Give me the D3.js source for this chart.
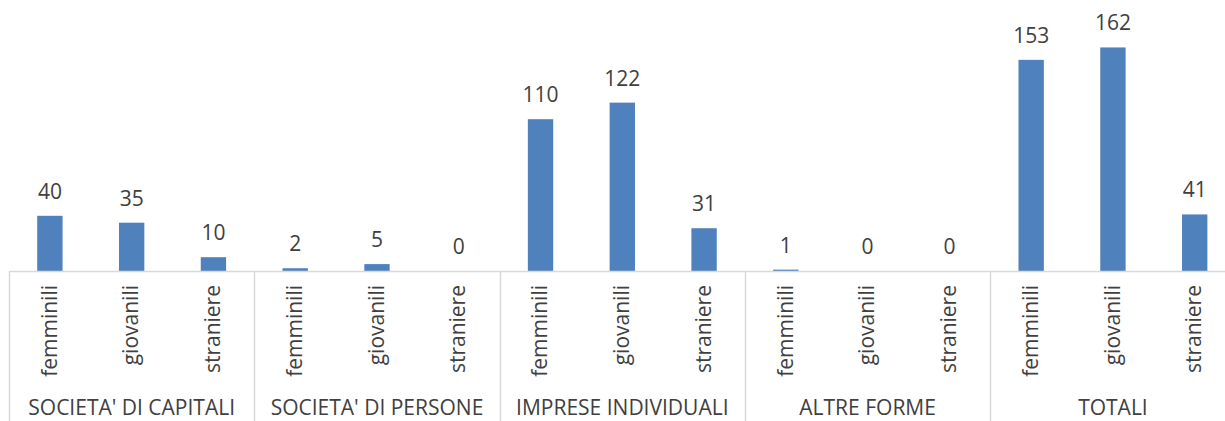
<!DOCTYPE html>
<html>
<head>
<meta charset="utf-8">
<script src="https://cdn.jsdelivr.net/npm/d3@7"></script>
<style>
  html, body { margin: 0; padding: 0; background: #fff; }
  svg { display: block; }
  text { font-family: "Open Sans", "Liberation Sans", sans-serif; }
</style>
</head>
<body>
<div id="chart"></div>
<script>
const groups = ["SOCIETA' DI CAPITALI", "SOCIETA' DI PERSONE", "IMPRESE INDIVIDUALI", "ALTRE FORME", "TOTALI"];
const subcategories = ["femminili", "giovanili", "straniere"];
const capitali = [40, 35, 10];
const persone = [2, 5, 0];
const individuali = [110, 122, 31];
const altre = [1, 0, 0];
const totali = [153, 162, 41];
const groupValues = [capitali, persone, individuali, altre, totali];

const W = 1225, H = 421;
const left = 9, right = 1235.6, baseY = 271, topY = 22.6;

const data = [];
groups.forEach((g, gi) => subcategories.forEach((s, si) => {
  data.push({ group: g, sub: s, key: g + "|" + s, value: groupValues[gi][si] });
}));

const svg = d3.select("#chart").append("svg").attr("width", W).attr("height", H);

const x = d3.scaleBand().domain(data.map(d => d.key)).range([left, right])
  .paddingInner(0.69).paddingOuter(0.345);
const xg = d3.scaleBand().domain(groups).range([left, right]);
const y = d3.scaleLinear().domain([0, 180]).range([baseY, topY]);

const textColor = "#404040";
const lineColor = "#d9d9d9";

// bars
svg.append("g").selectAll("rect").data(data).join("rect")
  .attr("x", d => x(d.key))
  .attr("width", x.bandwidth())
  .attr("y", d => y(d.value))
  .attr("height", d => y(0) - y(d.value))
  .attr("fill", "#4f81bd");

// axis line
svg.append("line").attr("x1", left).attr("x2", W).attr("y1", baseY + 0.5).attr("y2", baseY + 0.5)
  .attr("stroke", lineColor).attr("stroke-width", 1.5);

// group separators
const seps = groups.map(g => xg(g)).concat([xg(groups[groups.length - 1]) + xg.bandwidth()]);
svg.append("g").selectAll("line").data(seps).join("line")
  .attr("x1", d => Math.round(d) + 0.5).attr("x2", d => Math.round(d) + 0.5)
  .attr("y1", baseY).attr("y2", H)
  .attr("stroke", lineColor).attr("stroke-width", 1.5);

// value labels
svg.append("g").selectAll("text").data(data).join("text")
  .attr("x", d => x(d.key) + x.bandwidth() / 2)
  .attr("y", d => y(d.value) - 17)
  .attr("text-anchor", "middle")
  .attr("font-size", 21)
  .attr("fill", textColor)
  .text(d => d.value);

// subcategory labels (rotated)
svg.append("g").selectAll("text").data(data).join("text")
  .attr("transform", d => `translate(${x(d.key) + x.bandwidth() / 2},${285}) rotate(-90)`)
  .attr("text-anchor", "end")
  .attr("dy", "0.32em")
  .attr("font-size", 21)
  .attr("fill", textColor)
  .text(d => d.sub);

// group labels
svg.append("g").selectAll("text").data(groups).join("text")
  .attr("x", g => xg(g) + xg.bandwidth() / 2)
  .attr("y", 415)
  .attr("text-anchor", "middle")
  .attr("font-size", 21)
  .attr("fill", textColor)
  .text(g => g);
</script>
</body>
</html>
